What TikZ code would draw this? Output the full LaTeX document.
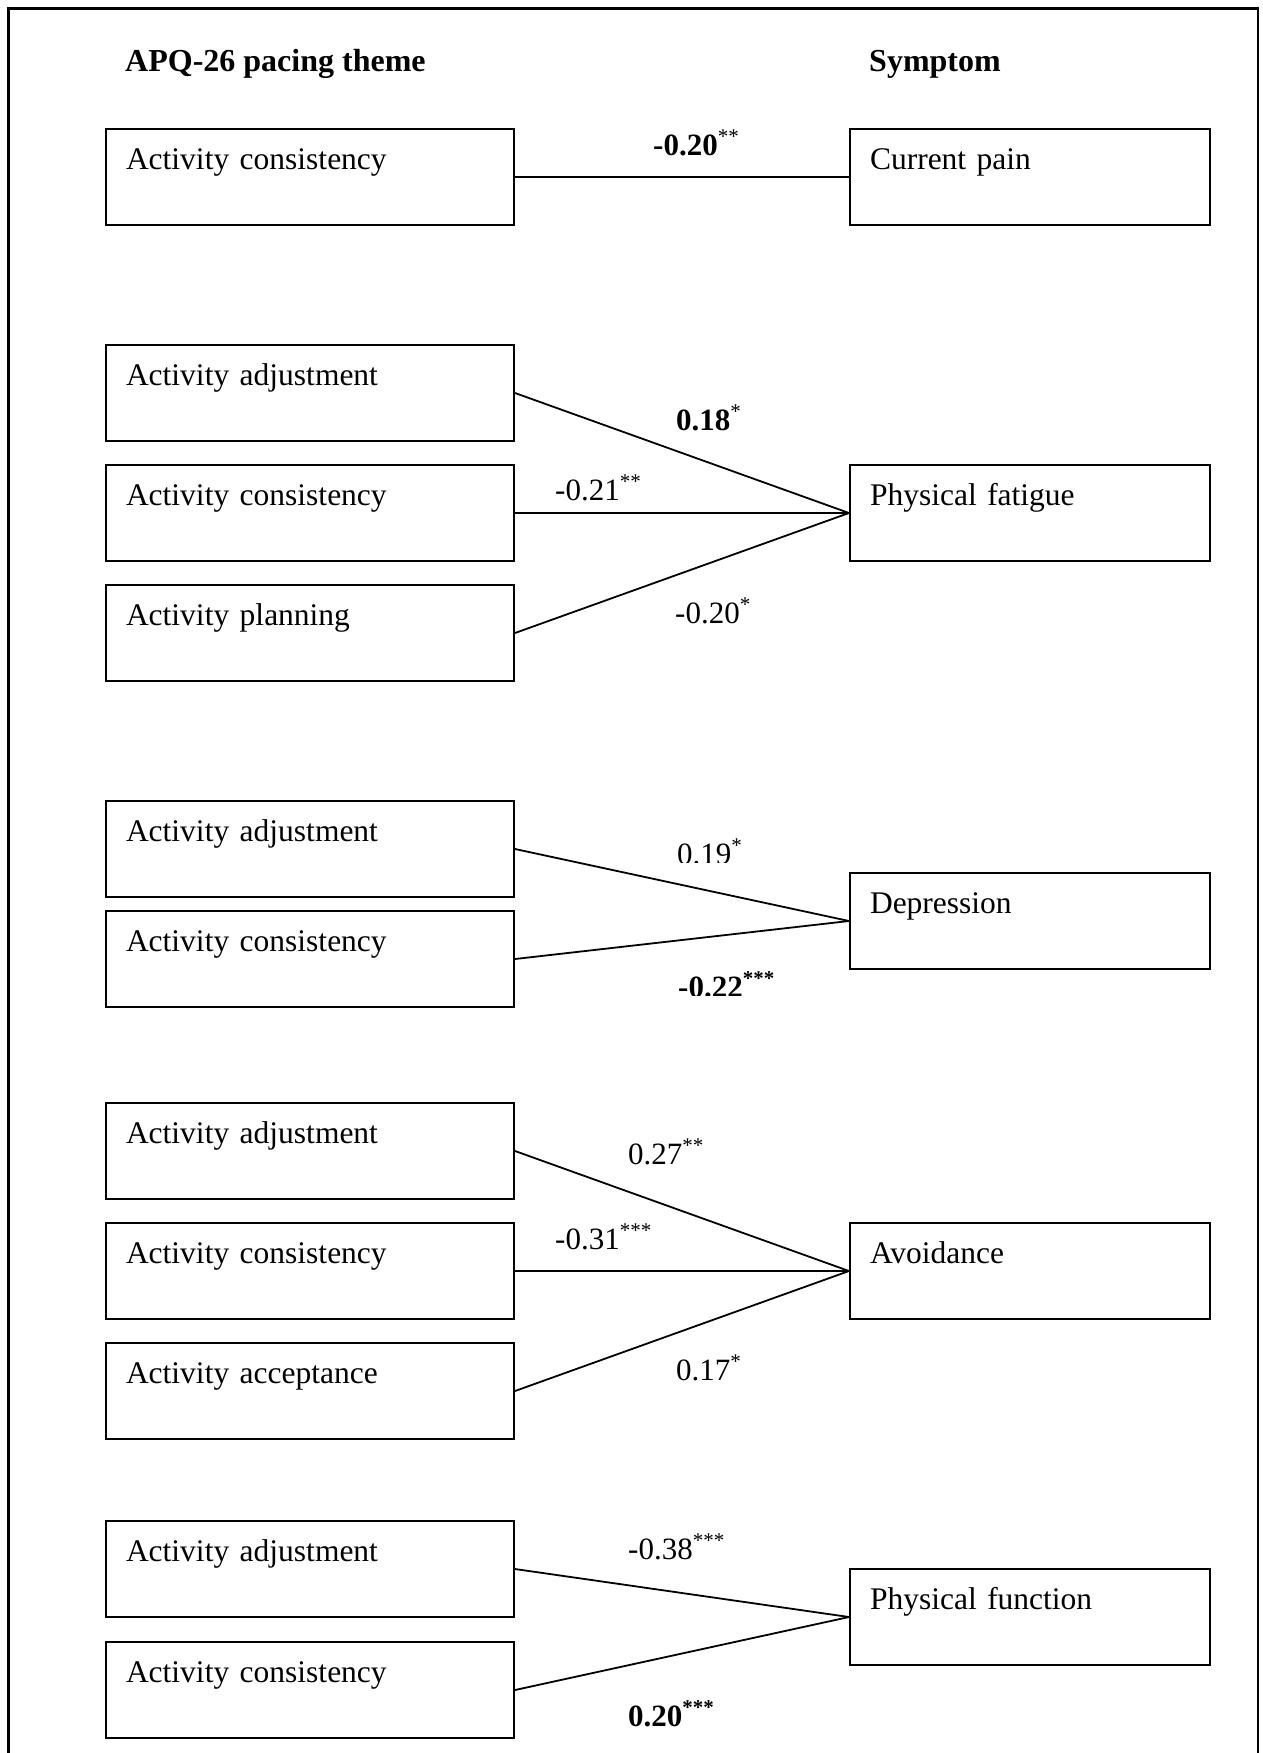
\documentclass[tikz,border=0pt]{standalone}
\usepackage{fontspec}
\setmainfont{Liberation Serif}
\newcommand\sig[1]{\raisebox{12pt}{\fontsize{21}{21}\selectfont #1}}
\begin{document}
\begin{tikzpicture}[x=1pt,y=-1pt]
\tikzset{
  txtfont/.style={font=\fontsize{31.5}{37}\selectfont},
  lbox/.style={draw, line width=2pt, rectangle, anchor=north west, inner xsep=20pt, inner ysep=0pt,
    text height=40pt, text depth=56pt, text width=368pt, align=left, txtfont},
  rbox/.style={lbox, text width=320pt},
  conn/.style={line width=1.8pt},
  coef/.style={anchor=base west, inner sep=0pt, font=\fontsize{31}{37}\selectfont},
  hdr/.style={anchor=base west, inner sep=0pt, font=\fontsize{32}{38}\selectfont\bfseries},
}
\useasboundingbox (0,0) rectangle (1262,1753);
% frame
\draw[line width=2.5pt] (8.5,1753) -- (8.5,8.5) -- (1258,8.5) -- (1258,1753);
% headers
\node[hdr] (h1) at (125,71) {APQ-26 pacing theme};
\node[hdr] (h2) at (869,71) {Symptom};
% group 1
\node[lbox] (a1) at (105,128) {Activity consistency};
\node[rbox] (s1) at (849,128) {Current pain};
\draw[conn] (a1.east) -- (s1.west);
\node[coef] (c1) at (653,155) {\textbf{-0.20}\sig{**}};
% group 2
\node[lbox] (a2) at (105,344) {Activity adjustment};
\node[lbox] (a3) at (105,464) {Activity consistency};
\node[lbox] (a4) at (105,584) {Activity planning};
\node[rbox] (s2) at (849,464) {Physical fatigue};
\draw[conn] (a2.east) -- (s2.west);
\draw[conn] (a3.east) -- (s2.west);
\draw[conn] (a4.east) -- (s2.west);
\node[coef] (c2) at (676,430) {\textbf{0.18}\sig{*}};
\node[coef] (c3) at (555,500) {-0.21\sig{**}};
\node[coef] (c4) at (675,623) {-0.20\sig{*}};
% group 3
\node[lbox] (a5) at (105,800) {Activity adjustment};
\node[lbox] (a6) at (105,910) {Activity consistency};
\node[rbox] (s3) at (849,872) {Depression};
\draw[conn] (a5.east) -- (s3.west);
\draw[conn] (a6.east) -- (s3.west);
\begin{scope}
  \clip (600,800) rectangle (800,862);
  \node[coef] (c5) at (677,864) {0.19\sig{*}};
\end{scope}
\begin{scope}
  \clip (600,940) rectangle (800,995);
  \node[coef] (c6) at (678,997.5) {\bfseries -0.22\sig{***}};
\end{scope}
% group 4
\node[lbox] (a7) at (105,1102) {Activity adjustment};
\node[lbox] (a8) at (105,1222) {Activity consistency};
\node[lbox] (a9) at (105,1342) {Activity acceptance};
\node[rbox] (s4) at (849,1222) {Avoidance};
\draw[conn] (a7.east) -- (s4.west);
\draw[conn] (a8.east) -- (s4.west);
\draw[conn] (a9.east) -- (s4.west);
\node[coef] (c7) at (628,1164) {0.27\sig{**}};
\node[coef] (c8) at (555,1249) {-0.31\sig{***}};
\node[coef] (c9) at (676,1380) {0.17\sig{*}};
% group 5
\node[lbox] (a10) at (105,1520) {Activity adjustment};
\node[lbox] (a11) at (105,1641) {Activity consistency};
\node[rbox] (s5) at (849,1568) {Physical function};
\draw[conn] (a10.east) -- (s5.west);
\draw[conn] (a11.east) -- (s5.west);
\node[coef] (c10) at (628,1559) {-0.38\sig{***}};
\begin{scope}
  \clip (600,1680) rectangle (800,1726);
  \node[coef] (c11) at (628,1726) {\bfseries 0.20\sig{***}};
\end{scope}
\end{tikzpicture}
\end{document}
